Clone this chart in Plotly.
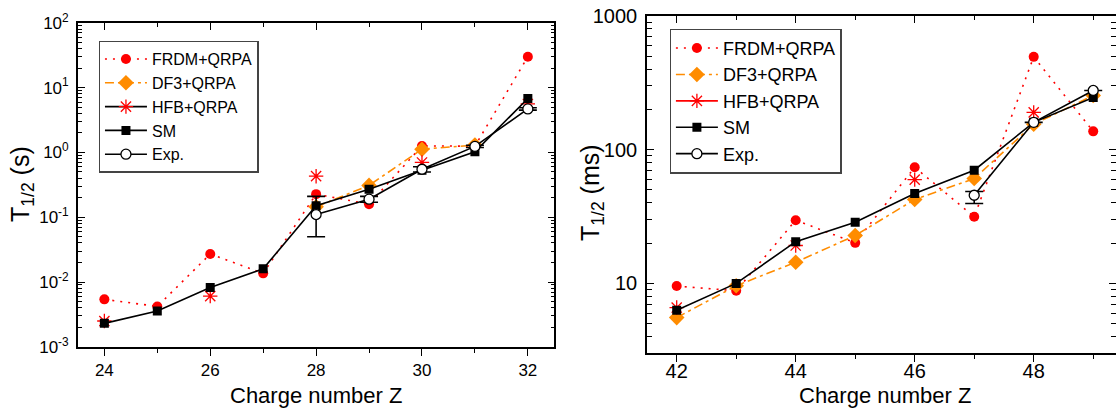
import plotly.graph_objects as go

# ---------------- Data: left panel (T1/2 in s) ----------------
Z_L = [24, 25, 26, 27, 28, 29, 30, 31, 32]
frdm_L = [5.4e-3, 4.2e-3, 0.027, 0.0136, 0.227, 0.159, 1.26, 1.25, 30.0]
df3_Z_L = [28, 29, 30, 31]
df3_L = [0.145, 0.31, 1.12, 1.3]
hfb_Z_L = [24, 26, 28, 30, 32]
hfb_L = [2.5e-3, 6.05e-3, 0.43, 0.70, 5.6]
sm_L = [2.3e-3, 3.56e-3, 8.2e-3, 0.016, 0.15, 0.27, 0.53, 1.02, 6.8]
exp_Z_L = [28, 29, 30, 31, 32]
exp_L = [0.11, 0.19, 0.55, 1.24, 4.7]
exp_err_plus_L = [0.10, 0.02, 0.05, 0.05, 0.2]
exp_err_minus_L = [0.06, 0.02, 0.05, 0.05, 0.2]
yt_L_vals = [1e-3, 1e-2, 1e-1, 1, 10, 100]
yt_L_text = ["10<sup>-3</sup>", "10<sup>-2</sup>", "10<sup>-1</sup>",
             "10<sup>0</sup>", "10<sup>1</sup>", "10<sup>2</sup>"]
decades_L = [1e-3, 1e-2, 1e-1, 1, 10]

# ---------------- Data: right panel (T1/2 in ms) ----------------
Z_R = [42, 43, 44, 45, 46, 47, 48, 49]
frdm_R = [9.55, 8.8, 29.7, 20.1, 73.8, 31.5, 494, 137]
df3_R = [5.55, 9.6, 14.4, 22.8, 42.4, 60.8, 155, 254]
hfb_Z_R = [42, 44, 46, 48]
hfb_R = [6.6, 19.2, 59.7, 190]
sm_R = [6.3, 10.0, 20.5, 28.7, 47.0, 70.2, 160, 245]
exp_Z_R = [47, 48, 49]
exp_R = [45.6, 160, 277]
exp_err_plus_R = [3.0, 0.0, 0.0]
exp_err_minus_R = [6.0, 0.0, 0.0]
yt_R_vals = [10, 100, 1000]
yt_R_text = ["10", "100", "1000"]
decades_R = [1, 10, 100]

RED = "#FF0000"
ORANGE = "#FF8C00"
BLACK = "#000000"
FONT = "Arial, Liberation Sans, sans-serif"

minor_L = [d * k for d in decades_L for k in range(2, 10)]
minor_R = [d * k for d in decades_R for k in range(2, 10) if d * k >= 3]

fig = go.Figure()


def add_panel(xa, ya, leg, Z, frdm, dZ, df3, hZ, hfb, sm, eZ, ev, ep, em, hfb_line_color, msize):
    fig.add_trace(go.Scatter(x=Z, y=frdm, mode="lines+markers", name="FRDM+QRPA",
                             line=dict(color=RED, width=1.6, dash="2px,6px"),
                             marker=dict(symbol="circle", size=msize, color=RED),
                             xaxis=xa, yaxis=ya, legend=leg))
    fig.add_trace(go.Scatter(x=dZ, y=df3, mode="lines+markers", name="DF3+QRPA",
                             line=dict(color=ORANGE, width=1.6, dash="9px,4px,3px,4px"),
                             marker=dict(symbol="diamond", size=msize + 2, color=ORANGE),
                             xaxis=xa, yaxis=ya, legend=leg))
    star = dict(symbol="asterisk-open", size=msize + 2, color=RED,
                line=dict(color=RED, width=1.3))
    # legend-only entry for HFB (line + marker); the points themselves are markers only
    fig.add_trace(go.Scatter(x=[None], y=[None], mode="lines+markers", name="HFB+QRPA",
                             line=dict(color=hfb_line_color, width=1.6), marker=star,
                             xaxis=xa, yaxis=ya, legend=leg))
    fig.add_trace(go.Scatter(x=hZ, y=hfb, mode="markers", name="HFB+QRPA", showlegend=False,
                             marker=star, xaxis=xa, yaxis=ya, legend=leg))
    fig.add_trace(go.Scatter(x=Z, y=sm, mode="lines+markers", name="SM",
                             line=dict(color=BLACK, width=1.6),
                             marker=dict(symbol="square", size=msize - 1, color=BLACK),
                             xaxis=xa, yaxis=ya, legend=leg))
    fig.add_trace(go.Scatter(x=eZ, y=ev, mode="lines+markers", name="Exp.",
                             line=dict(color=BLACK, width=1.6),
                             marker=dict(symbol="circle", size=msize, color="white",
                                         line=dict(color=BLACK, width=1.3)),
                             error_y=dict(type="data", symmetric=False, array=ep, arrayminus=em,
                                          color=BLACK, thickness=1.6, width=9),
                             xaxis=xa, yaxis=ya, legend=leg))


add_panel("x", "y", "legend", Z_L, frdm_L, df3_Z_L, df3_L, hfb_Z_L, hfb_L, sm_L,
          exp_Z_L, exp_L, exp_err_plus_L, exp_err_minus_L, BLACK, 10)
add_panel("x2", "y2", "legend2", Z_R, frdm_R, Z_R, df3_R, hfb_Z_R, hfb_R, sm_R,
          exp_Z_R, exp_R, exp_err_plus_R, exp_err_minus_R, RED, 10)

# dummy traces so the top-side overlay axes get drawn
fig.add_trace(go.Scatter(x=[None], y=[None], xaxis="x3", yaxis="y", showlegend=False))
fig.add_trace(go.Scatter(x=[None], y=[None], xaxis="x4", yaxis="y2", showlegend=False))

xr_L = [23.5, 32.5]
xr_R = [41.5, 49.383]
dom_L = [0.0698, 0.4967]
dom_R = [0.5797, 1.0]

common_x = dict(showline=True, linecolor=BLACK, linewidth=1.6, ticks="outside", ticklen=7,
                tickwidth=1.4, tickcolor=BLACK, showgrid=False, zeroline=False, automargin=False,
                minor=dict(ticks="outside", ticklen=4, tickwidth=1.2, dtick=1, tickcolor=BLACK))
top_x = dict(side="top", showline=True, linecolor=BLACK, linewidth=1.6, ticks="inside",
             ticklen=7, tickwidth=1.4, tickcolor=BLACK, showticklabels=False, showgrid=False,
             zeroline=False, automargin=False,
             minor=dict(ticks="inside", ticklen=4, tickwidth=1.2, dtick=1, tickcolor=BLACK))
common_y = dict(type="log", showline=True, linecolor=BLACK, linewidth=1.6, mirror="ticks",
                ticks="inside", ticklen=7, tickwidth=1.4, tickcolor=BLACK, showgrid=False,
                zeroline=False, tickmode="array", automargin=False)

fig.update_layout(
    width=1116, height=408,
    margin=dict(l=0, r=0, t=0, b=0, pad=0, autoexpand=False),
    paper_bgcolor="white", plot_bgcolor="white",
    font=dict(family=FONT, color=BLACK),
    xaxis=dict(**common_x, domain=dom_L, range=xr_L, anchor="y", tick0=24, dtick=2,
               tickfont=dict(size=17)),
    xaxis3=dict(**top_x, overlaying="x", anchor="y", range=xr_L, tick0=24, dtick=2),
    yaxis=dict(**common_y, domain=[0.150, 0.944], anchor="x", range=[-3, 2],
               tickvals=yt_L_vals, ticktext=yt_L_text, tickfont=dict(size=17),
               ticklabelstandoff=4,
               minor=dict(ticks="inside", ticklen=4, tickwidth=1.0, tickmode="array",
                          tickvals=minor_L, tickcolor=BLACK, showgrid=False)),
    xaxis2=dict(**common_x, domain=dom_R, range=xr_R, anchor="y2", tick0=42, dtick=2,
                tickfont=dict(size=20)),
    xaxis4=dict(**top_x, overlaying="x2", anchor="y2", range=xr_R, tick0=42, dtick=2),
    yaxis2=dict(**common_y, domain=[0.134, 0.961], anchor="x2", range=[0.4771, 3],
                tickvals=yt_R_vals, ticktext=yt_R_text, tickfont=dict(size=20),
                ticklabelstandoff=4,
                minor=dict(ticks="inside", ticklen=5, tickwidth=1.0, tickmode="array",
                           tickvals=minor_R, tickcolor=BLACK, showgrid=False)),
    legend=dict(x=0.0884, y=0.90, xanchor="left", yanchor="top",
                bordercolor="#444444", borderwidth=1.3, bgcolor="white",
                font=dict(size=16, family=FONT), tracegroupgap=0, itemwidth=42),
    legend2=dict(x=0.6, y=0.93, xanchor="left", yanchor="top",
                 bordercolor="#444444", borderwidth=1.3, bgcolor="white",
                 font=dict(size=18, family=FONT), tracegroupgap=0, itemwidth=42),
    showlegend=True,
)

# pull the right panel tick labels a bit closer to the axis, if supported
try:
    fig.layout.xaxis2.ticklabelstandoff = -8
except Exception:
    pass

annots = [
    dict(text="Charge number Z", x=315.7 / 1116, y=(408 - 395) / 408, font=dict(size=22)),
    dict(text="Charge number Z", x=885 / 1116, y=(408 - 395) / 408, font=dict(size=22)),
    dict(text="T<sub>1/2</sub> (s)", x=22 / 1116, y=(408 - 184) / 408, textangle=-90,
         font=dict(size=25)),
    dict(text="T<sub>1/2</sub> (ms)", x=592 / 1116, y=(408 - 193) / 408, textangle=-90,
         font=dict(size=25)),
]
for a in annots:
    fig.add_annotation(xref="paper", yref="paper", showarrow=False, xanchor="center",
                       yanchor="middle", **a)

fig.write_html("out.html", config={"displayModeBar": False},
               post_script="document.body.style.margin='0';document.body.style.overflow='hidden';")
